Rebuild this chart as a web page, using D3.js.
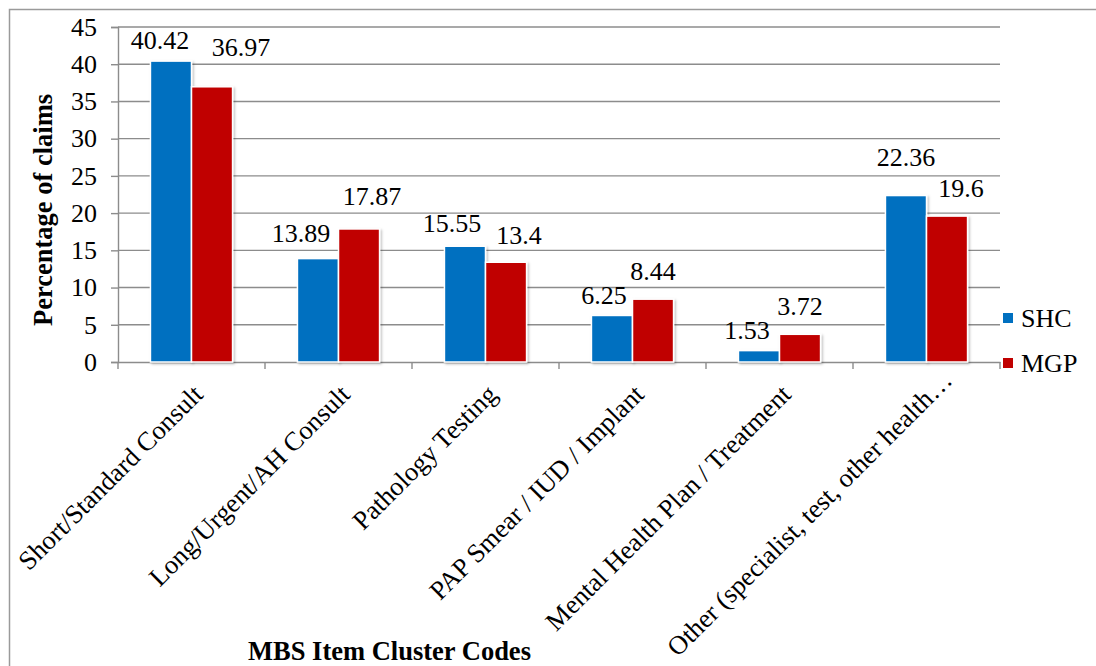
<!DOCTYPE html>
<html>
<head>
<meta charset="utf-8">
<script src="https://cdn.jsdelivr.net/npm/d3@7"></script>
<style>
  html, body { margin: 0; padding: 0; background: #fff; }
  svg { display: block; }
  svg text { font-family: "Liberation Serif", "Times New Roman", serif; }
</style>
</head>
<body>
<svg id="chart" width="1096" height="666"></svg>
<script>
// ---- data ----
const categories = [
  "Short/Standard Consult",
  "Long/Urgent/AH Consult",
  "Pathology Testing",
  "PAP Smear / IUD / Implant",
  "Mental Health Plan / Treatment",
  "Other (specialist, test, other health\u2026"
];
const seriesNames = ["SHC", "MGP"];
const shcValues = [40.42, 13.89, 15.55, 6.25, 1.53, 22.36];
const mgpValues = [36.97, 17.87, 13.4, 8.44, 3.72, 19.6];
const yTickValues = [0, 5, 10, 15, 20, 25, 30, 35, 40, 45];

// label nudges (manual placement in the original, relative to bar top-centre)
const shcLabelNudge = [[-11, -12], [-17, -17], [-13, -14], [-8, -11], [-12, -12], [0, -30]];
const mgpLabelNudge = [[29, -31], [13, -24], [13, -18], [0, -19], [0, -19], [14, -19]];
// shift along the rotated baseline (truncated label sits further along in the original)
const catLabelShift = [0, 0, 0, 0, 0, 20];

const colors = { SHC: "#0070C0", MGP: "#C00000" };
const FONT = "Liberation Serif";

const svg = d3.select("#chart");
const W = 1096, H = 666;
const pLeft = 118, pRight = 1000, pTop = 27, pBottom = 362;

// chart border
svg.append("rect").attr("x", 9.5).attr("y", 9.5).attr("width", W + 20).attr("height", H + 20)
  .attr("fill", "none").attr("stroke", "#9a9a9a").attr("stroke-width", 1.5);

const defs = svg.append("defs");
const f = defs.append("filter").attr("id", "shadow").attr("x", "-20%").attr("y", "-20%").attr("width", "150%").attr("height", "150%");
f.append("feDropShadow").attr("dx", 1.5).attr("dy", 1.5).attr("stdDeviation", 1.2)
  .attr("flood-color", "#000").attr("flood-opacity", 0.25);

const y = d3.scaleLinear().domain([0, 45]).range([pBottom, pTop]);
const x0 = d3.scaleBand().domain(categories).range([pLeft, pRight]).paddingInner(0).paddingOuter(0);
const x1 = d3.scaleBand().domain(seriesNames).range([0, x0.bandwidth()]).paddingInner(0).paddingOuter(0.79);

// gridlines
svg.append("g").selectAll("line").data(yTickValues.filter(v => v > 0)).join("line")
  .attr("x1", pLeft).attr("x2", pRight)
  .attr("y1", d => y(d)).attr("y2", d => y(d))
  .attr("stroke", "#8c8c8c").attr("stroke-width", 1.4);

// y axis
const yAxis = svg.append("g").attr("transform", `translate(${pLeft},0)`)
  .call(d3.axisLeft(y).tickValues(yTickValues).tickSize(7).tickPadding(14).tickFormat(d3.format("d")));
yAxis.attr("font-family", FONT).attr("font-size", 26);
yAxis.select(".domain").attr("stroke", "#8c8c8c").attr("stroke-width", 1.4);
yAxis.selectAll(".tick line").attr("stroke", "#8c8c8c").attr("stroke-width", 1.4);
yAxis.selectAll(".tick text").attr("font-family", FONT).attr("font-size", 26).attr("fill", "#000");

// x axis
const xAxis = svg.append("g").attr("transform", `translate(0,${pBottom})`)
  .call(d3.axisBottom(x0).tickSize(0).tickFormat(""));
xAxis.select(".domain").attr("stroke", "#8c8c8c").attr("stroke-width", 1.4);
xAxis.selectAll(".tick").remove();
const boundaries = categories.map(c => x0(c)).concat([x0(categories[categories.length - 1]) + x0.bandwidth()]);
xAxis.selectAll("line.bnd").data(boundaries).join("line").attr("class", "bnd")
  .attr("x1", d => d).attr("x2", d => d).attr("y1", 0).attr("y2", 7)
  .attr("stroke", "#8c8c8c").attr("stroke-width", 1.4);

// bars
const rows = categories.map((c, i) => ({ cat: c, i, vals: [
  { s: "SHC", v: shcValues[i], n: shcLabelNudge[i] },
  { s: "MGP", v: mgpValues[i], n: mgpLabelNudge[i] }
]}));
const groups = svg.append("g").selectAll("g").data(rows).join("g")
  .attr("transform", d => `translate(${x0(d.cat)},0)`);
groups.selectAll("rect").data(d => d.vals).join("rect")
  .attr("x", d => x1(d.s)).attr("width", x1.bandwidth())
  .attr("y", d => y(d.v)).attr("height", d => y(0) - y(d.v))
  .attr("fill", d => colors[d.s]).attr("stroke", "#fff").attr("stroke-width", 1.5)
  .attr("filter", "url(#shadow)");
groups.selectAll("text").data(d => d.vals).join("text")
  .attr("x", d => x1(d.s) + x1.bandwidth() / 2 + d.n[0])
  .attr("y", d => y(d.v) + d.n[1])
  .attr("text-anchor", "middle").attr("font-family", FONT).attr("font-size", 26).attr("fill", "#000")
  .text(d => d.v);

// category labels
svg.append("g").selectAll("text").data(categories).join("text")
  .attr("transform", (d, i) => `translate(${x0(d) + x0.bandwidth() / 2 + 13},${pBottom + 34}) rotate(-45) translate(${catLabelShift[i]},0)`)
  .attr("text-anchor", "end").attr("font-family", FONT).attr("font-size", 26.5).attr("fill", "#000")
  .text(d => d);

// axis titles
svg.append("text").attr("transform", `translate(52,210) rotate(-90)`)
  .attr("text-anchor", "middle").attr("font-family", FONT).attr("font-weight", "bold").attr("font-size", 26.5).text("Percentage of claims");
svg.append("text").attr("x", 389.5).attr("y", 660)
  .attr("text-anchor", "middle").attr("font-family", FONT).attr("font-weight", "bold").attr("font-size", 26.5).text("MBS Item Cluster Codes");

// legend
const lg = svg.append("g").selectAll("g").data(seriesNames).join("g")
  .attr("transform", (d, i) => `translate(1003,${313 + i * 45})`);
lg.append("rect").attr("width", 10).attr("height", 10).attr("fill", d => colors[d]);
lg.append("text").attr("x", 18).attr("y", 14).attr("font-family", FONT).attr("font-size", 26).text(d => d);
</script>
</body>
</html>
